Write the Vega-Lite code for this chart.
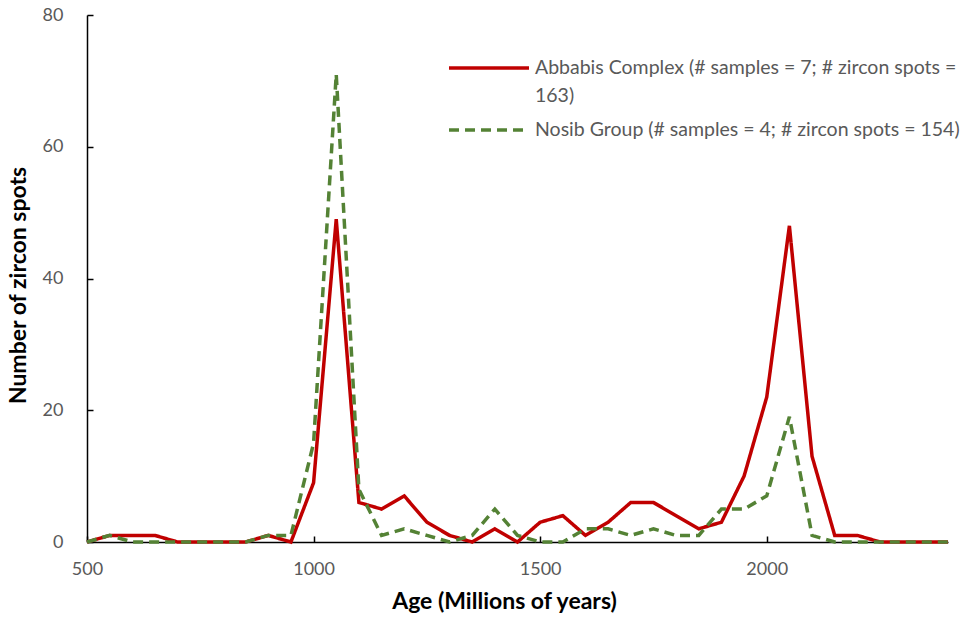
{
  "$schema": "https://vega.github.io/schema/vega-lite/v6.json",
  "width": 861,
  "height": 527,
  "autosize": {"type": "none"},
  "padding": {"left": 87, "top": 15, "right": 25, "bottom": 92},
  "background": "white",
  "config": {
    "view": {"stroke": null},
    "font": "Lato",
    "style": {"guide-label": {"lineHeight": 28}},
    "axis": {
      "domainColor": "#000000",
      "domainWidth": 1.5,
      "tickColor": "#000000",
      "tickWidth": 1.5,
      "grid": false,
      "labelFlush": false,
      "labelFont": "Lato",
      "labelFontSize": 18,
      "labelColor": "#595959",
      "titleFont": "Lato",
      "titleFontSize": 23,
      "titleFontWeight": "bold",
      "titleColor": "#000000"
    }
  },
  "datasets": {
    "rows": [
      {"age": 500, "series": "Abbabis Complex (# samples = 7; # zircon spots = 163)", "count": 0},
      {"age": 550, "series": "Abbabis Complex (# samples = 7; # zircon spots = 163)", "count": 1},
      {"age": 600, "series": "Abbabis Complex (# samples = 7; # zircon spots = 163)", "count": 1},
      {"age": 650, "series": "Abbabis Complex (# samples = 7; # zircon spots = 163)", "count": 1},
      {"age": 700, "series": "Abbabis Complex (# samples = 7; # zircon spots = 163)", "count": 0},
      {"age": 750, "series": "Abbabis Complex (# samples = 7; # zircon spots = 163)", "count": 0},
      {"age": 800, "series": "Abbabis Complex (# samples = 7; # zircon spots = 163)", "count": 0},
      {"age": 850, "series": "Abbabis Complex (# samples = 7; # zircon spots = 163)", "count": 0},
      {"age": 900, "series": "Abbabis Complex (# samples = 7; # zircon spots = 163)", "count": 1},
      {"age": 950, "series": "Abbabis Complex (# samples = 7; # zircon spots = 163)", "count": 0},
      {"age": 1000, "series": "Abbabis Complex (# samples = 7; # zircon spots = 163)", "count": 9},
      {"age": 1050, "series": "Abbabis Complex (# samples = 7; # zircon spots = 163)", "count": 49},
      {"age": 1100, "series": "Abbabis Complex (# samples = 7; # zircon spots = 163)", "count": 6},
      {"age": 1150, "series": "Abbabis Complex (# samples = 7; # zircon spots = 163)", "count": 5},
      {"age": 1200, "series": "Abbabis Complex (# samples = 7; # zircon spots = 163)", "count": 7},
      {"age": 1250, "series": "Abbabis Complex (# samples = 7; # zircon spots = 163)", "count": 3},
      {"age": 1300, "series": "Abbabis Complex (# samples = 7; # zircon spots = 163)", "count": 1},
      {"age": 1350, "series": "Abbabis Complex (# samples = 7; # zircon spots = 163)", "count": 0},
      {"age": 1400, "series": "Abbabis Complex (# samples = 7; # zircon spots = 163)", "count": 2},
      {"age": 1450, "series": "Abbabis Complex (# samples = 7; # zircon spots = 163)", "count": 0},
      {"age": 1500, "series": "Abbabis Complex (# samples = 7; # zircon spots = 163)", "count": 3},
      {"age": 1550, "series": "Abbabis Complex (# samples = 7; # zircon spots = 163)", "count": 4},
      {"age": 1600, "series": "Abbabis Complex (# samples = 7; # zircon spots = 163)", "count": 1},
      {"age": 1650, "series": "Abbabis Complex (# samples = 7; # zircon spots = 163)", "count": 3},
      {"age": 1700, "series": "Abbabis Complex (# samples = 7; # zircon spots = 163)", "count": 6},
      {"age": 1750, "series": "Abbabis Complex (# samples = 7; # zircon spots = 163)", "count": 6},
      {"age": 1800, "series": "Abbabis Complex (# samples = 7; # zircon spots = 163)", "count": 4},
      {"age": 1850, "series": "Abbabis Complex (# samples = 7; # zircon spots = 163)", "count": 2},
      {"age": 1900, "series": "Abbabis Complex (# samples = 7; # zircon spots = 163)", "count": 3},
      {"age": 1950, "series": "Abbabis Complex (# samples = 7; # zircon spots = 163)", "count": 10},
      {"age": 2000, "series": "Abbabis Complex (# samples = 7; # zircon spots = 163)", "count": 22},
      {"age": 2050, "series": "Abbabis Complex (# samples = 7; # zircon spots = 163)", "count": 48},
      {"age": 2100, "series": "Abbabis Complex (# samples = 7; # zircon spots = 163)", "count": 13},
      {"age": 2150, "series": "Abbabis Complex (# samples = 7; # zircon spots = 163)", "count": 1},
      {"age": 2200, "series": "Abbabis Complex (# samples = 7; # zircon spots = 163)", "count": 1},
      {"age": 2250, "series": "Abbabis Complex (# samples = 7; # zircon spots = 163)", "count": 0},
      {"age": 2300, "series": "Abbabis Complex (# samples = 7; # zircon spots = 163)", "count": 0},
      {"age": 2350, "series": "Abbabis Complex (# samples = 7; # zircon spots = 163)", "count": 0},
      {"age": 2400, "series": "Abbabis Complex (# samples = 7; # zircon spots = 163)", "count": 0},
      {"age": 500, "series": "Nosib Group (# samples = 4; # zircon spots = 154)", "count": 0},
      {"age": 550, "series": "Nosib Group (# samples = 4; # zircon spots = 154)", "count": 1},
      {"age": 600, "series": "Nosib Group (# samples = 4; # zircon spots = 154)", "count": 0},
      {"age": 650, "series": "Nosib Group (# samples = 4; # zircon spots = 154)", "count": 0},
      {"age": 700, "series": "Nosib Group (# samples = 4; # zircon spots = 154)", "count": 0},
      {"age": 750, "series": "Nosib Group (# samples = 4; # zircon spots = 154)", "count": 0},
      {"age": 800, "series": "Nosib Group (# samples = 4; # zircon spots = 154)", "count": 0},
      {"age": 850, "series": "Nosib Group (# samples = 4; # zircon spots = 154)", "count": 0},
      {"age": 900, "series": "Nosib Group (# samples = 4; # zircon spots = 154)", "count": 1},
      {"age": 950, "series": "Nosib Group (# samples = 4; # zircon spots = 154)", "count": 1},
      {"age": 1000, "series": "Nosib Group (# samples = 4; # zircon spots = 154)", "count": 15},
      {"age": 1050, "series": "Nosib Group (# samples = 4; # zircon spots = 154)", "count": 71},
      {"age": 1100, "series": "Nosib Group (# samples = 4; # zircon spots = 154)", "count": 8},
      {"age": 1150, "series": "Nosib Group (# samples = 4; # zircon spots = 154)", "count": 1},
      {"age": 1200, "series": "Nosib Group (# samples = 4; # zircon spots = 154)", "count": 2},
      {"age": 1250, "series": "Nosib Group (# samples = 4; # zircon spots = 154)", "count": 1},
      {"age": 1300, "series": "Nosib Group (# samples = 4; # zircon spots = 154)", "count": 0},
      {"age": 1350, "series": "Nosib Group (# samples = 4; # zircon spots = 154)", "count": 1},
      {"age": 1400, "series": "Nosib Group (# samples = 4; # zircon spots = 154)", "count": 5},
      {"age": 1450, "series": "Nosib Group (# samples = 4; # zircon spots = 154)", "count": 1},
      {"age": 1500, "series": "Nosib Group (# samples = 4; # zircon spots = 154)", "count": 0},
      {"age": 1550, "series": "Nosib Group (# samples = 4; # zircon spots = 154)", "count": 0},
      {"age": 1600, "series": "Nosib Group (# samples = 4; # zircon spots = 154)", "count": 2},
      {"age": 1650, "series": "Nosib Group (# samples = 4; # zircon spots = 154)", "count": 2},
      {"age": 1700, "series": "Nosib Group (# samples = 4; # zircon spots = 154)", "count": 1},
      {"age": 1750, "series": "Nosib Group (# samples = 4; # zircon spots = 154)", "count": 2},
      {"age": 1800, "series": "Nosib Group (# samples = 4; # zircon spots = 154)", "count": 1},
      {"age": 1850, "series": "Nosib Group (# samples = 4; # zircon spots = 154)", "count": 1},
      {"age": 1900, "series": "Nosib Group (# samples = 4; # zircon spots = 154)", "count": 5},
      {"age": 1950, "series": "Nosib Group (# samples = 4; # zircon spots = 154)", "count": 5},
      {"age": 2000, "series": "Nosib Group (# samples = 4; # zircon spots = 154)", "count": 7},
      {"age": 2050, "series": "Nosib Group (# samples = 4; # zircon spots = 154)", "count": 19},
      {"age": 2100, "series": "Nosib Group (# samples = 4; # zircon spots = 154)", "count": 1},
      {"age": 2150, "series": "Nosib Group (# samples = 4; # zircon spots = 154)", "count": 0},
      {"age": 2200, "series": "Nosib Group (# samples = 4; # zircon spots = 154)", "count": 0},
      {"age": 2250, "series": "Nosib Group (# samples = 4; # zircon spots = 154)", "count": 0},
      {"age": 2300, "series": "Nosib Group (# samples = 4; # zircon spots = 154)", "count": 0},
      {"age": 2350, "series": "Nosib Group (# samples = 4; # zircon spots = 154)", "count": 0},
      {"age": 2400, "series": "Nosib Group (# samples = 4; # zircon spots = 154)", "count": 0}
    ]
  },
  "data": {"name": "rows"},
  "mark": {"type": "line", "strokeWidth": 3.5, "strokeJoin": "miter", "clip": false},
  "encoding": {
    "x": {
      "field": "age",
      "type": "quantitative",
      "scale": {"domain": [500, 2400], "nice": false, "zero": false},
      "axis": {
        "title": "Age (Millions of years)",
        "values": [500, 1000, 1500, 2000],
        "format": "d",
        "tickSize": -6,
        "labelPadding": 24,
        "titlePadding": 12,
        "titleX": 417
      }
    },
    "y": {
      "field": "count",
      "type": "quantitative",
      "scale": {"domain": [0, 80], "nice": false},
      "axis": {
        "title": "Number of zircon spots",
        "values": [0, 20, 40, 60, 80],
        "format": "d",
        "tickSize": -6,
        "labelPadding": 30,
        "titlePadding": 12,
        "titleY": 270
      }
    },
    "color": {
      "field": "series",
      "type": "nominal",
      "scale": {
        "domain": ["Abbabis Complex (# samples = 7; # zircon spots = 163)", "Nosib Group (# samples = 4; # zircon spots = 154)"],
        "range": ["#C00000", "#548235"]
      },
      "legend": {
        "title": null,
        "orient": "none",
        "legendX": 378,
        "legendY": 29,
        "padding": 0,
        "symbolType": "M-1.818,0H1.818",
        "symbolSize": 1936,
        "symbolStrokeWidth": 3.5,
        "labelFont": "Lato",
        "labelFontSize": 19.5,
        "labelColor": "#595959",
        "labelLimit": 700,
        "labelOffset": 22,
        "rowPadding": 0,
        "labelExpr": "datum.label == 'Abbabis Complex (# samples = 7; # zircon spots = 163)' ? ['Abbabis Complex (# samples = 7; # zircon spots =', '163)'] : datum.label"
      }
    },
    "strokeDash": {
      "field": "series",
      "type": "nominal",
      "scale": {
        "domain": ["Abbabis Complex (# samples = 7; # zircon spots = 163)", "Nosib Group (# samples = 4; # zircon spots = 154)"],
        "range": [[1, 0], [10, 6]]
      },
      "legend": {
        "title": null,
        "orient": "none",
        "legendX": 378,
        "legendY": 29,
        "padding": 0,
        "symbolType": "M-1.818,0H1.818",
        "symbolSize": 1936,
        "symbolStrokeWidth": 3.5,
        "labelFont": "Lato",
        "labelFontSize": 19.5,
        "labelColor": "#595959",
        "labelLimit": 700,
        "labelOffset": 22,
        "rowPadding": 0,
        "labelExpr": "datum.label == 'Abbabis Complex (# samples = 7; # zircon spots = 163)' ? ['Abbabis Complex (# samples = 7; # zircon spots =', '163)'] : datum.label"
      }
    }
  }
}
